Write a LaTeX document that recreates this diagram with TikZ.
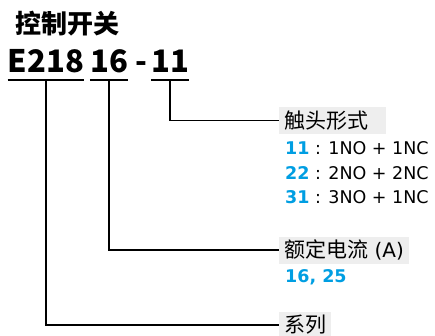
\documentclass[tikz,border=0pt]{standalone}
\usepackage{fontspec}
\setmainfont{Noto Sans CJK SC}
\newfontfamily\latinfont{DejaVu Sans}
\usetikzlibrary{positioning}
\definecolor{codeblue}{RGB}{0,158,226}
\definecolor{boxgray}{RGB}{238,238,238}

\begin{document}
\begin{tikzpicture}[x=1pt,y=-1pt,
  code/.style={anchor=south,inner xsep=0pt,inner ysep=0pt,text depth=7pt,font=\fontsize{31}{31}\selectfont\bfseries},
  field/.style={anchor=west,fill=boxgray,inner xsep=5pt,inner ysep=0pt,minimum height=27pt,font=\fontsize{21}{21}\selectfont},
  opt/.style={anchor=west,inner sep=0pt,font=\fontsize{17.5}{17.5}\latinfont},
  lead/.style={line width=1.3pt},
  uline/.style={line width=2pt}]
\useasboundingbox (0,0) rectangle (435,335);
% title and type code
\node[anchor=west,inner sep=0pt,font=\fontsize{26}{26}\selectfont\bfseries] (title) at (15,24) {控制开关};
\node[code] (cE) at (46,80) {E218};
\node[code] (c16) at (109,80) {16};
\node[code] (cdash) at (141,80) {-};
\node[code] (c11) at (170,80) {11};
\foreach \n in {cE,c16,c11} {\draw[uline] (\n.south west) -- (\n.south east);}
% fields
\node[field,text width=97pt,align=left] (contact) at (279,120.5) {触头形式};
\node[opt] (o11) at (285,148) {\textcolor{codeblue}{\bfseries 11} : 1NO + 1NC};
\node[opt] (o22) at (285,173) {\textcolor{codeblue}{\bfseries 22} : 2NO + 2NC};
\node[opt] (o31) at (285,197) {\textcolor{codeblue}{\bfseries 31} : 3NO + 1NC};
\node[field] (rated) at (279,250) {额定电流{\latinfont\fontsize{20}{20}\selectfont{} (A)}};
\node[opt,text=codeblue,font=\fontsize{17.5}{17.5}\latinfont\bfseries] (rval) at (285,277) {16, 25};
\node[field] (series) at (279,325) {系列};
% leaders
\draw[lead] (c11.south) |- (contact.west);
\draw[lead] (c16.south) |- (rated.west);
\draw[lead] (cE.south) |- (series.west);
\end{tikzpicture}
\end{document}
